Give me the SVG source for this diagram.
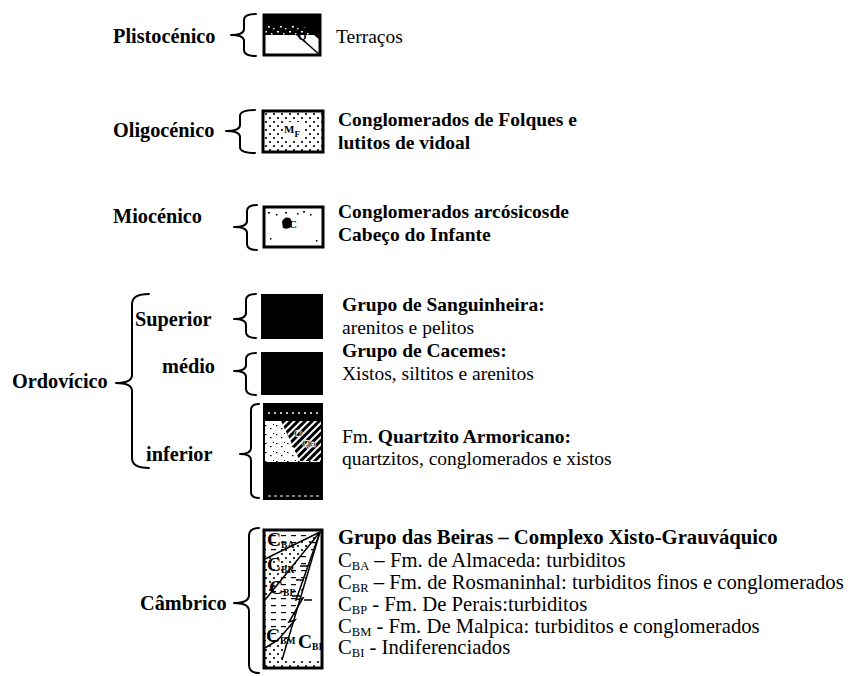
<svg xmlns="http://www.w3.org/2000/svg" width="848" height="676" viewBox="0 0 848 676">
<style>
text{font-family:"Liberation Serif","Times New Roman",serif;font-size:19.5px;fill:#000}
.b{font-weight:bold}
.era{font-weight:bold;font-size:20.3px}
.cb{font-size:20.7px}
.br{fill:none;stroke:#000;stroke-width:2;stroke-linecap:round;stroke-linejoin:round}
.frame{fill:none;stroke:#000;stroke-width:3}
.lbl{font-size:11px;font-weight:bold}
.sub{font-size:12.5px}
.ln{fill:none;stroke:#000;stroke-width:1.5}
</style>
<defs>
<pattern id="dots" width="8" height="8" patternUnits="userSpaceOnUse">
<rect width="8" height="8" fill="#fff"/>
<circle cx="2" cy="2" r="1.1" fill="#000"/>
<circle cx="6" cy="6" r="1.1" fill="#000"/>
</pattern>
<pattern id="dash" width="10" height="7" patternUnits="userSpaceOnUse">
<rect width="10" height="7" fill="#fff"/>
<rect x="1" y="3" width="5" height="1.2" fill="#000"/>
</pattern>
<pattern id="hatch" width="5" height="5" patternUnits="userSpaceOnUse" patternTransform="rotate(45)">
<rect width="5" height="5" fill="#000"/>
<rect width="2" height="5" fill="#fff"/>
</pattern>
<pattern id="spk" width="12" height="10" patternUnits="userSpaceOnUse">
<rect width="12" height="10" fill="#000"/>
<rect x="1" y="1" width="2" height="1.5" fill="#fff"/>
<rect x="7" y="3" width="1.5" height="1.5" fill="#fff"/>
<rect x="4" y="6" width="2" height="1.5" fill="#fff"/>
<rect x="9" y="8" width="1.5" height="1.2" fill="#fff"/>
</pattern>
<pattern id="gspk" width="11" height="9" patternUnits="userSpaceOnUse">
<rect width="11" height="9" fill="#fff"/>
<rect x="1" y="2" width="1.5" height="1.2" fill="#000"/>
<rect x="6" y="5" width="1.5" height="1.2" fill="#000"/>
<rect x="9" y="1" width="1" height="1" fill="#000"/>
</pattern>
</defs>

<g id="connectors">
<path class="br" d="M256 14 Q244 14 244 20 L244 29 Q244 35 231 35 Q244 35 244 41 L244 50 Q244 56 256 56"/>
<path class="br" d="M255 110 Q240 110 240 116 L240 125 Q240 131 226 131 Q240 131 240 137 L240 147 Q240 153 255 153"/>
<path class="br" d="M257 205 Q247 205 247 211 L247 221 Q247 227 234 227 Q247 227 247 233 L247 244 Q247 250 257 250"/>
<path class="br" d="M149 294 Q132 294 132 304 L132 375 Q132 383 116 383 Q132 383 132 391 L132 458 Q132 468 149 468"/>
<path class="br" d="M256 294 Q246 294 246 300 L246 313 Q246 319 234 319 Q246 319 246 325 L246 332 Q246 338 256 338"/>
<path class="br" d="M256 353 Q246 353 246 359 L246 365 Q246 371 234 371 Q246 371 246 377 L246 389 Q246 395 256 395"/>
<path class="br" d="M259 404 Q251 404 251 410 L251 448 Q251 454 240 454 Q251 454 251 460 L251 492 Q251 498 259 498"/>
<path class="br" d="M259 528 Q249 528 249 536 L249 595 Q249 603 234 603 Q249 603 249 611 L249 665 Q249 673 259 673"/>
</g>

<g id="plistocenico">
<text class="era" x="113" y="43">Plistocénico</text>
<rect x="264" y="15" width="56" height="40" fill="#fff"/>
<rect x="264" y="15" width="56" height="11" fill="#000"/>
<rect x="264" y="25" width="56" height="10" fill="url(#spk)"/>
<path d="M302 25 L320 25 L320 40 Z" fill="#000"/>
<path class="ln" d="M296 34 L320 55"/>
<text class="lbl" x="298" y="40">Q</text>
<rect class="frame" x="264" y="15" width="56" height="40"/>
<text x="336" y="43">Terraços</text>
</g>

<g id="oligocenico">
<text class="era" x="113" y="137">Oligocénico</text>
<rect x="263" y="111" width="60" height="41" fill="url(#dots)"/>
<rect x="283" y="122" width="20" height="17" fill="#fff"/>
<text class="lbl" x="284" y="133">M<tspan font-size="9" dy="4">F</tspan></text>
<rect class="frame" x="263" y="111" width="60" height="41"/>
<text class="b" x="338" y="126">Conglomerados de Folques e</text>
<text class="b" x="338" y="149">lutitos de vidoal</text>
</g>

<g id="miocenico">
<text class="era" x="113" y="223">Miocénico</text>
<rect x="264" y="207" width="59" height="40" fill="#fff"/>
<g fill="#000">
<rect x="268" y="212" width="2" height="1.5"/><rect x="276" y="214" width="1.5" height="1.5"/><rect x="285" y="212" width="2" height="1.5"/>
<rect x="297" y="213" width="1.5" height="1.5"/><rect x="303" y="211" width="2" height="1.5"/><rect x="310" y="214" width="1.5" height="1.5"/>
<rect x="270" y="238" width="1.5" height="1.5"/><rect x="316" y="240" width="1.5" height="1.5"/>
<path d="M282 222 Q284 216 290 218 Q293 222 291 227 Q287 230 283 228 Z"/>
</g>
<text class="lbl" x="289" y="228">C</text>
<rect class="frame" x="264" y="207" width="59" height="40"/>
<text class="b" x="338" y="218">Conglomerados arcósicosde</text>
<text class="b" x="338" y="241">Cabeço do Infante</text>
</g>

<g id="ordovicico">
<text class="era" x="12" y="388">Ordovícico</text>
</g>

<g id="superior">
<text class="era" x="135" y="326">Superior</text>
<rect x="261" y="294" width="62" height="45" fill="#000"/>
<text class="b" x="342" y="311">Grupo de Sanguinheira:</text>
<text x="342" y="334">arenitos e pelitos</text>
</g>

<g id="medio">
<text class="era" x="162" y="373">médio</text>
<rect x="261" y="352" width="62" height="43" fill="#000"/>
<text class="b" x="342" y="357">Grupo de Cacemes:</text>
<text x="342" y="380">Xistos, siltitos e arenitos</text>
</g>

<g id="inferior">
<text class="era" x="146" y="461">inferior</text>
<rect x="263" y="403" width="60" height="97" fill="#000"/>
<path d="M268 413 L320 413" stroke="#fff" stroke-width="1.5" stroke-dasharray="2 4"/>
<rect x="265" y="421" width="56" height="41" fill="url(#gspk)"/>
<path d="M281 421 L321 421 L321 461 L300 461 Z" fill="url(#hatch)"/>
<text class="lbl" x="294" y="437" fill="#000" stroke="#fff" stroke-width="0.6">O</text>
<text class="lbl" x="302" y="447" fill="#000" stroke="#fff" stroke-width="0.6">Qa</text>
<path d="M268 496 L320 496" stroke="#fff" stroke-width="1" stroke-dasharray="3 3"/>
<text x="342" y="443">Fm. <tspan class="b">Quartzito Armoricano:</tspan></text>
<text x="342" y="465" font-size="20.2">quartzitos, conglomerados e xistos</text>
</g>

<g id="cambrico">
<text class="era" x="140" y="610">Câmbrico</text>
<rect x="264" y="530" width="58" height="138" fill="#fff"/>
<path d="M265 531 L320 531 L265 559 Z" fill="url(#dash)"/>
<path d="M265 559 L320 532 L265 600 Z" fill="url(#dots)"/>
<path d="M265 600 L320 532 L296 600 L303 598 L289 622 L295 620 L278 640 L265 648 Z" fill="url(#dash)"/>
<path d="M265 648 L278 640 L295 620 L289 622 L303 598 L296 600 L320 532 L282 660 L265 660 Z" fill="url(#dots)"/>
<path d="M320 532 L321 540 L321 660 L282 660 Z" fill="#fff"/>
<path d="M300 566 L308 566 M296 580 L304 580 M292 596 L300 596 M304 600 L312 600" class="ln" stroke-width="1"/>
<rect x="265" y="660" width="56" height="7" fill="url(#dots)"/>
<g class="ln">
<path d="M265 559 L320 532"/>
<path d="M265 600 L320 532"/>
<path d="M320 532 L296 600 L303 598 L289 622 L295 620 L278 640 L265 648"/>
<path d="M320 532 L282 660"/>
</g>
<g class="lbl">
<text x="267" y="546" font-size="12">C<tspan font-size="9.5" dy="2">BA</tspan></text>
<text x="267" y="571" font-size="12">C<tspan font-size="9.5" dy="2">BR</tspan></text>
<text x="269" y="594" font-size="12">C<tspan font-size="9.5" dy="2">BP</tspan></text>
<text x="266" y="642" font-size="12">C<tspan font-size="9.5" dy="2">BM</tspan></text>
<text x="298" y="648" font-size="12">C<tspan font-size="9.5" dy="2">BI</tspan></text>
</g>
<rect class="frame" x="264" y="530" width="58" height="138"/>
<text class="b cb" x="338" y="544">Grupo das Beiras – Complexo Xisto-Grauváquico</text>
<text class="cb" x="338" y="567">C<tspan class="sub" dy="3">BA</tspan><tspan dy="-3"> – Fm. de Almaceda: turbiditos</tspan></text>
<text class="cb" x="338" y="589">C<tspan class="sub" dy="3">BR</tspan><tspan dy="-3"> – Fm. de Rosmaninhal: turbiditos finos e conglomerados</tspan></text>
<text class="cb" x="338" y="611">C<tspan class="sub" dy="3">BP</tspan><tspan dy="-3"> - Fm. De Perais:turbiditos</tspan></text>
<text class="cb" x="338" y="633">C<tspan class="sub" dy="3">BM</tspan><tspan dy="-3"> - Fm. De Malpica: turbiditos e conglomerados</tspan></text>
<text class="cb" x="338" y="654">C<tspan class="sub" dy="3">BI</tspan><tspan dy="-3"> - Indiferenciados</tspan></text>
</g>
</svg>
